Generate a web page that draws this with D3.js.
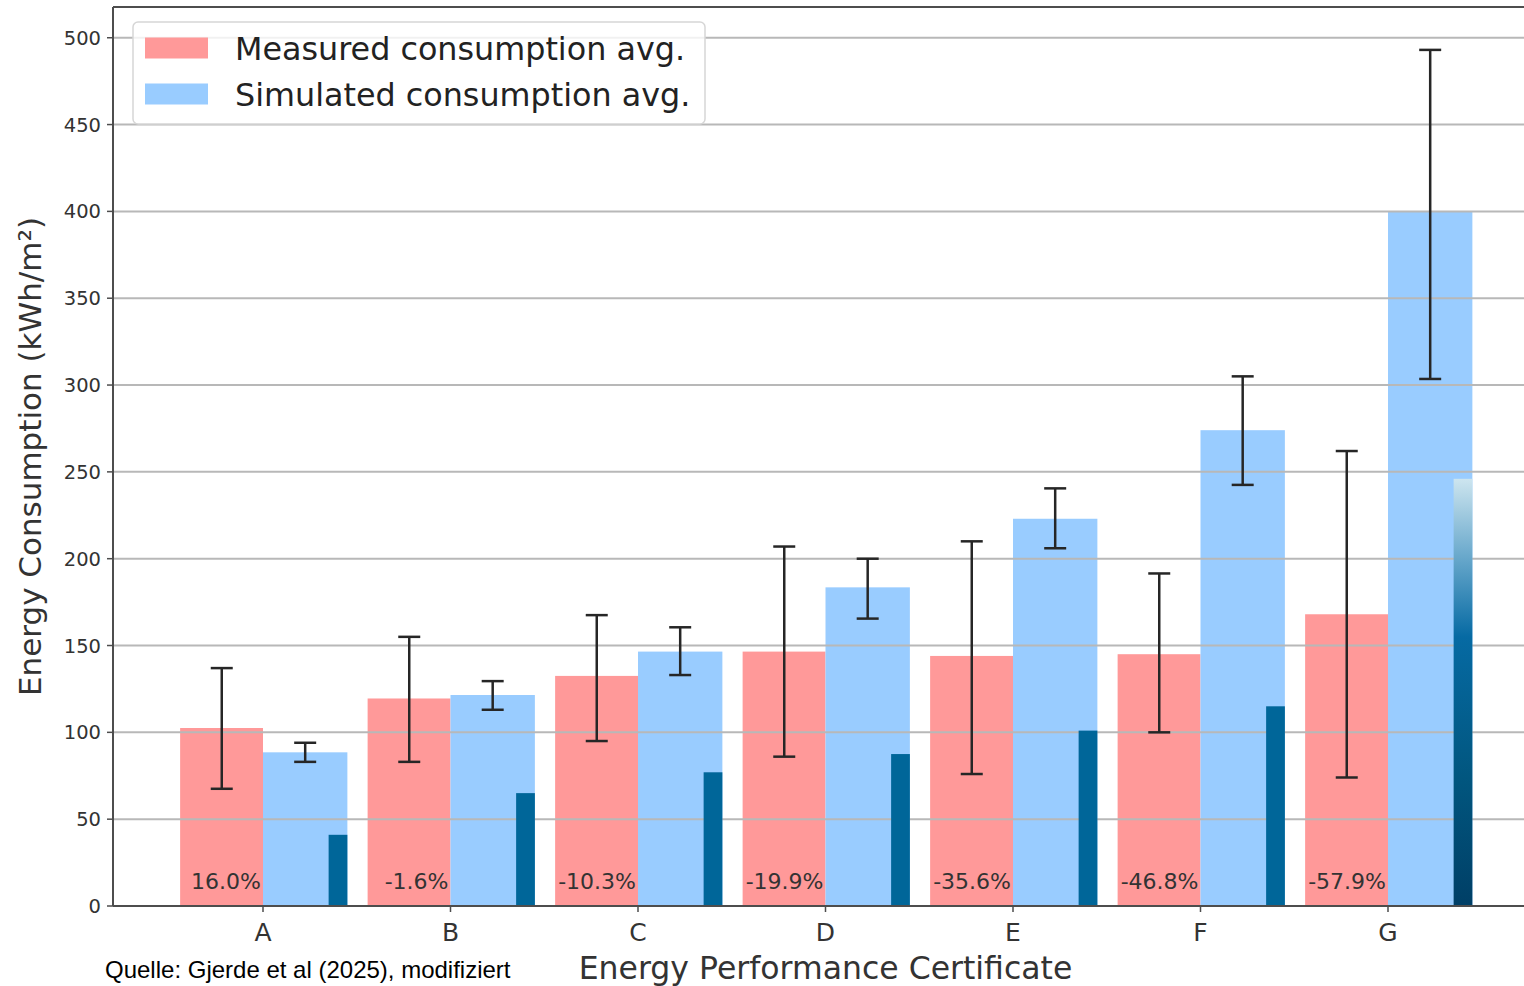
<!DOCTYPE html>
<html>
<head>
<meta charset="utf-8">
<script src="https://cdn.jsdelivr.net/npm/d3@7"></script>
<style>
  body { margin: 0; background: #fff; }
  svg { display: block; font-family: 'DejaVu Sans', sans-serif; }
</style>
</head>
<body>
<div id="chart"></div>
<script>
const categories = ['A', 'B', 'C', 'D', 'E', 'F', 'G']
const measured = [102.5, 119.5, 132.5, 146.5, 144, 145, 168]
const measuredLow = [67.5, 83, 95, 86, 76, 100, 74]
const measuredHigh = [137, 155, 167.5, 207, 210, 191.5, 262]
const simulated = [88.5, 121.5, 146.5, 183.5, 223, 274, 400]
const simulatedLow = [83, 113, 133, 165.5, 206, 242.5, 303.5]
const simulatedHigh = [94, 129.5, 160.5, 200, 240.5, 305, 493]
const highlight = [41, 65, 77, 87.5, 101, 115, 246]
const gapLabels = ['16.0%', '-1.6%', '-10.3%', '-19.9%', '-35.6%', '-46.8%', '-57.9%']
const yTicks = [0, 50, 100, 150, 200, 250, 300, 350, 400, 450, 500]

const W = 1524
const H = 986
const plot = { left: 113, right: 1538, top: 7, bottom: 906 }

const svg = d3.select('#chart').append('svg').attr('width', W).attr('height', H)
svg.append('rect').attr('width', W).attr('height', H).attr('fill', '#fff')

const x = d3.scaleLinear().domain([-0.8, categories.length - 0.2]).range([plot.left, plot.right])
const y = d3.scaleLinear().domain([0, 517.7]).range([plot.bottom, plot.top])
const barW = 0.45
const darkW = 0.1

const defs = svg.append('defs')
const grad = defs.append('linearGradient').attr('id', 'darkGrad').attr('x1', 0).attr('y1', 0).attr('x2', 0).attr('y2', 1)
grad.append('stop').attr('offset', '0%').attr('stop-color', '#cde5ef')
grad.append('stop').attr('offset', '18%').attr('stop-color', '#6aa9cc')
grad.append('stop').attr('offset', '37%').attr('stop-color', '#066aa3')
grad.append('stop').attr('offset', '70%').attr('stop-color', '#01567f')
grad.append('stop').attr('offset', '100%').attr('stop-color', '#003f66')

// measured + simulated bars
svg.append('g').selectAll('rect').data(measured).join('rect')
  .attr('x', (d, i) => x(i - barW) + 1.5)
  .attr('width', (d, i) => x(i) - x(i - barW) - 1.5)
  .attr('y', d => y(d))
  .attr('height', d => y(0) - y(d))
  .attr('fill', '#ff9999')

svg.append('g').selectAll('rect').data(simulated).join('rect')
  .attr('x', (d, i) => x(i))
  .attr('width', (d, i) => x(i + barW) - x(i))
  .attr('y', d => y(d))
  .attr('height', d => y(0) - y(d))
  .attr('fill', '#99ccff')

// grid on top of the pale bars
svg.append('g').selectAll('line').data(yTicks).join('line')
  .attr('x1', plot.left).attr('x2', plot.right)
  .attr('y1', d => y(d)).attr('y2', d => y(d))
  .attr('stroke', '#b8b8b8').attr('stroke-width', 2)

// dark bars sit at the right edge of each simulated bar
svg.append('g').selectAll('rect').data(highlight).join('rect')
  .attr('x', (d, i) => x(i + barW - darkW))
  .attr('width', (d, i) => x(i + barW) - x(i + barW - darkW))
  .attr('y', d => y(d))
  .attr('height', d => y(0) - y(d))
  .attr('fill', (d, i) => i === categories.length - 1 ? 'url(#darkGrad)' : '#006699')

// error bars
function errorBars(lows, highs, offset) {
  const g = svg.append('g').attr('stroke', '#262626').attr('stroke-width', 2.5)
  const capHalf = 11
  lows.forEach(function (lo, i) {
    const cx = x(i + offset)
    g.append('line').attr('x1', cx).attr('x2', cx).attr('y1', y(lo)).attr('y2', y(highs[i]))
    g.append('line').attr('x1', cx - capHalf).attr('x2', cx + capHalf).attr('y1', y(lo)).attr('y2', y(lo))
    g.append('line').attr('x1', cx - capHalf).attr('x2', cx + capHalf).attr('y1', y(highs[i])).attr('y2', y(highs[i]))
  })
}
errorBars(measuredLow, measuredHigh, -barW / 2 + 0.005)
errorBars(simulatedLow, simulatedHigh, barW / 2)

// gap labels
svg.append('g').selectAll('text').data(gapLabels).join('text')
  .attr('x', (d, i) => x(i) - 2)
  .attr('y', 889)
  .attr('text-anchor', 'end')
  .attr('font-size', 22)
  .attr('fill', '#333')
  .text(d => d)

// spines
const spine = svg.append('g').attr('stroke', '#4d4d4d').attr('stroke-width', 2)
spine.append('line').attr('x1', plot.left).attr('x2', plot.left).attr('y1', plot.top).attr('y2', plot.bottom)
spine.append('line').attr('x1', plot.left).attr('x2', plot.right).attr('y1', plot.bottom).attr('y2', plot.bottom)
spine.append('line').attr('x1', plot.left).attr('x2', plot.right).attr('y1', plot.top).attr('y2', plot.top)

// y axis ticks
const yAxis = svg.append('g')
yAxis.selectAll('line').data(yTicks).join('line')
  .attr('x1', plot.left - 6).attr('x2', plot.left)
  .attr('y1', d => y(d)).attr('y2', d => y(d))
  .attr('stroke', '#4d4d4d').attr('stroke-width', 1.5)
yAxis.selectAll('text').data(yTicks).join('text')
  .attr('x', 101).attr('y', d => y(d) + 7)
  .attr('text-anchor', 'end').attr('font-size', 19.5).attr('fill', '#333')
  .text(d => d)

// x axis ticks
const xAxis = svg.append('g')
xAxis.selectAll('line').data(categories).join('line')
  .attr('x1', (d, i) => x(i)).attr('x2', (d, i) => x(i))
  .attr('y1', plot.bottom).attr('y2', plot.bottom + 6)
  .attr('stroke', '#4d4d4d').attr('stroke-width', 1.5)
xAxis.selectAll('text').data(categories).join('text')
  .attr('x', (d, i) => x(i)).attr('y', 941)
  .attr('text-anchor', 'middle').attr('font-size', 25).attr('fill', '#333')
  .text(d => d)

// axis titles
svg.append('text')
  .attr('transform', `translate(41, ${(plot.top + plot.bottom) / 2}) rotate(-90)`)
  .attr('text-anchor', 'middle').attr('font-size', 31).attr('fill', '#333')
  .text('Energy Consumption (kWh/m²)')
svg.append('text')
  .attr('x', (plot.left + plot.right) / 2).attr('y', 979)
  .attr('text-anchor', 'middle').attr('font-size', 31.5).attr('fill', '#333')
  .text('Energy Performance Certificate')

// source note
svg.append('text')
  .attr('x', 105).attr('y', 978)
  .attr('font-family', "'Liberation Sans', Arial, sans-serif")
  .attr('font-size', 24).attr('fill', '#000')
  .text('Quelle: Gjerde et al (2025), modifiziert')

// legend
const legend = svg.append('g')
legend.append('rect')
  .attr('x', 133).attr('y', 22).attr('width', 572).attr('height', 102).attr('rx', 5)
  .attr('fill', '#fff').attr('fill-opacity', 0.8).attr('stroke', '#d6d6d6').attr('stroke-width', 1.5)
const legendItems = [
  { label: 'Measured consumption avg.', color: '#ff9999' },
  { label: 'Simulated consumption avg.', color: '#99ccff' },
]
legendItems.forEach(function (item, i) {
  const cy = 48 + i * 46
  legend.append('rect').attr('x', 145).attr('y', cy - 10.5).attr('width', 63).attr('height', 21).attr('fill', item.color)
  legend.append('text').attr('x', 235).attr('y', cy + 11.5)
    .attr('font-size', 31.8).attr('fill', '#222').text(item.label)
})
</script>
</body>
</html>
